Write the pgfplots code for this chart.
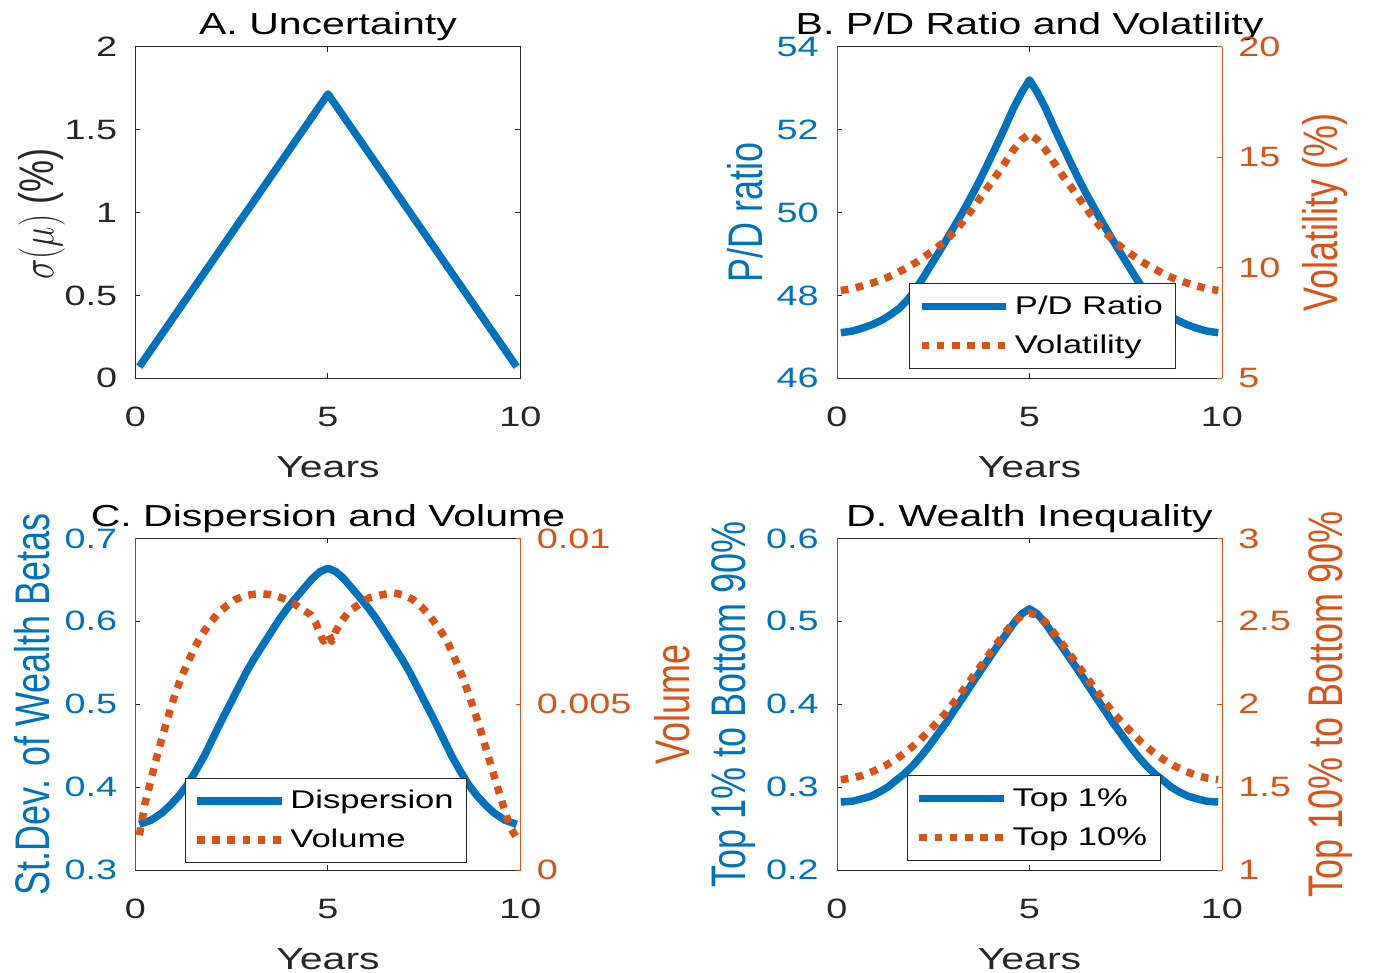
\documentclass[border=0pt]{standalone}
\usepackage{pgfplots}
\pgfplotsset{compat=1.18}
\usepackage{fontspec}
\setmainfont{Liberation Sans}
\usepackage{graphicx}
\definecolor{mblue}{rgb}{0,0.447,0.741}
\definecolor{morange}{rgb}{0.85,0.325,0.098}
\definecolor{mgray}{rgb}{0.15,0.15,0.15}
\newcommand\hs[1]{\scalebox{1.35}[1]{#1}}
\newcommand\vs[1]{\scalebox{1}[1.35]{#1}}
\newcommand\tickf{\fontsize{14}{16}\selectfont}
\newcommand\labf{\fontsize{15.2}{18}\selectfont}
\newcommand\ylabf{\fontsize{18}{20}\selectfont}
\newcommand\legf{\fontsize{12.8}{15}\selectfont}
\pgfplotsset{
  every non boxed x axis/.append style={x axis line style={-}},
  every non boxed y axis/.append style={y axis line style={-}},
  leftax/.style={axis x line*=box, axis y line*=left, axis line style={-, line width=0.5pt},
    x axis line style={draw=mgray}, y axis line style={draw=mblue},
    tick align=inside, xtick pos=both, ytick pos=left, xticklabel pos=lower, yticklabel pos=left,
    every tick/.append style={mgray, line width=0.5pt},
    yticklabel style={text=mblue, anchor=east, inner sep=0pt, xshift=-9pt},
    ylabel style={text=mblue}},
  rightax/.style={hide x axis, axis y line*=right, axis line style={-, line width=0.5pt},
    y axis line style={draw=morange},
    tick align=inside, ytick pos=right, yticklabel pos=right,
    every tick/.append style={morange, line width=0.5pt},
    yticklabel style={text=morange, anchor=west, inner sep=0pt, xshift=8pt},
    ylabel style={text=morange}},
  mbase/.style={
    scale only axis, width=192.5pt, height=165.8pt,
    xmin=0, xmax=10, scaled y ticks=false, scaled x ticks=false,
    /pgf/number format/assume math mode=true,
    major tick length=2.5pt,
    ticklabel style={font=\tickf},
    title style={font=\labf, text=black, at={(axis description cs:0.5,1)}, anchor=base},
    xlabel style={font=\labf, text=mgray, at={(axis description cs:0.5,0)}, anchor=base, yshift=-49.5pt},
    ylabel style={font=\ylabf, anchor=center},
    every axis plot/.append style={line join=round},
    legend image code/.code={\draw[##1] (0pt,0pt) -- (42.3pt,0pt);},
    legend cell align=left,
    legend style={anchor=south west, draw=mgray, line width=0.5pt, fill=white,
      inner xsep=4pt, inner ysep=2.2pt, row sep=1pt, column sep=0pt, font=\legf,
      nodes={inner xsep=2.5pt, inner ysep=3.5pt, text height=9.5pt, text depth=2pt}},
  },
  xbot/.style={xtick={0,5,10}, xticklabels={\hs{0},\hs{5},\hs{10}},
    xticklabel style={text=mgray, anchor=base, inner sep=0pt, yshift=-24pt},
    xlabel={\hs{Years}}},
  solidb/.style={mblue, line width=3.75pt},
  dotto/.style={morange, line width=3.75pt, dash pattern=on 3.8pt off 3.8pt},
}
\begin{document}
\begin{tikzpicture}
\useasboundingbox (0,0) rectangle (686.5pt,-486.5pt);
% ---------- A ----------
\begin{axis}[mbase, xbot, at={(67.75pt,-189.15pt)}, anchor=south west,
  ymin=0, ymax=2, ytick={0,0.5,1,1.5,2}, yticklabels={\hs{0},\hs{0.5},\hs{1},\hs{1.5},\hs{2}},
  yticklabel style={text=mgray, anchor=east, inner sep=0pt, xshift=-9pt},
  axis line style={mgray, line width=0.5pt}, every tick/.append style={mgray, line width=0.5pt},
  tick align=inside, xtick pos=both, ytick pos=both, xticklabel pos=lower, yticklabel pos=left,
  title={\hs{A. Uncertainty}},
  ylabel={\vs{$\sigma(\mu)$ (\%)}}, ylabel style={text=mgray, at={(axis description cs:-0.244,0.495)}},
]
\addplot[solidb] coordinates {(0.1,0.07) (5,1.715) (9.9,0.07)};
\end{axis}
% ---------- B ----------
\begin{axis}[leftax, mbase, xbot, at={(418.5pt,-189.15pt)}, anchor=south west,
  ymin=46, ymax=54, ytick={46,48,50,52,54}, yticklabels={\hs{46},\hs{48},\hs{50},\hs{52},\hs{54}},
  title={\hs{B. P/D Ratio and Volatility}},
  ylabel={\vs{P/D ratio}}, ylabel style={at={(axis description cs:-0.239,0.5)}},
]
\addplot[solidb] coordinates {(0.1,47.10) (0.4,47.14) (0.66,47.21) (0.9,47.29) (1.18,47.41) (1.4,47.54) (1.62,47.69) (1.8,47.86) (1.97,48.05) (2.2,48.37) (2.4,48.67) (2.62,49.00) (2.84,49.34) (3.05,49.67) (3.27,50.02) (3.5,50.41) (3.71,50.78) (3.93,51.20) (4.15,51.63) (4.37,52.07) (4.58,52.51) (4.8,52.90) (5.0,53.20) (5.2,52.90) (5.42,52.51) (5.63,52.07) (5.85,51.63) (6.07,51.20) (6.29,50.78) (6.5,50.41) (6.73,50.02) (6.95,49.67) (7.16,49.34) (7.38,49.00) (7.6,48.67) (7.8,48.37) (8.03,48.05) (8.2,47.86) (8.38,47.69) (8.6,47.54) (8.82,47.41) (9.1,47.29) (9.34,47.21) (9.6,47.14) (9.9,47.10)};
\end{axis}
\begin{axis}[rightax, mbase, at={(418.5pt,-189.15pt)}, anchor=south west,
  ymin=5, ymax=20, ytick={5,10,15,20}, yticklabels={\hs{5},\hs{10},\hs{15},\hs{20}},
  ylabel={\vs{Volatility (\%)}}, ylabel style={at={(axis description cs:1.268,0.5)}},
  legend style={at={(axis description cs:0.188,0.028)}},
]
\addlegendimage{solidb}
\addlegendentry{\hs{P/D Ratio}}
\addplot[dotto] coordinates {(0.1,8.97) (0.4,9.06) (0.66,9.18) (0.95,9.33) (1.27,9.53) (1.53,9.74) (1.79,9.98) (2.1,10.29) (2.4,10.66) (2.62,10.94) (2.84,11.26) (3.05,11.64) (3.27,12.09) (3.49,12.60) (3.71,13.14) (3.93,13.67) (4.15,14.20) (4.37,14.77) (4.58,15.33) (4.8,15.80) (5.0,16.05) (5.2,15.80) (5.42,15.33) (5.63,14.77) (5.85,14.20) (6.07,13.67) (6.29,13.14) (6.51,12.60) (6.73,12.09) (6.95,11.64) (7.16,11.26) (7.38,10.94) (7.6,10.66) (7.9,10.29) (8.21,9.98) (8.47,9.74) (8.73,9.53) (9.05,9.33) (9.34,9.18) (9.6,9.06) (9.9,8.97)};
\addlegendentry{\hs{Volatility}}
\end{axis}
% ---------- C ----------
\begin{axis}[leftax, mbase, xbot, at={(67.75pt,-435pt)}, anchor=south west,
  ymin=0.3, ymax=0.7, ytick={0.3,0.4,0.5,0.6,0.7}, yticklabels={\hs{0.3},\hs{0.4},\hs{0.5},\hs{0.6},\hs{0.7}},
  title={\hs{C. Dispersion and Volume}},
  ylabel={\vs{St.Dev. of Wealth Betas}}, ylabel style={at={(axis description cs:-0.268,0.5)}},
]
\addplot[solidb] coordinates {(0.1,0.355) (0.4,0.360) (0.69,0.369) (0.9,0.378) (1.12,0.389) (1.35,0.403) (1.56,0.419) (1.78,0.437) (1.99,0.457) (2.2,0.477) (2.42,0.497) (2.64,0.517) (2.86,0.537) (3.07,0.554) (3.29,0.570) (3.51,0.586) (3.73,0.602) (3.95,0.616) (4.16,0.628) (4.38,0.640) (4.6,0.652) (4.8,0.660) (5.0,0.664) (5.2,0.660) (5.4,0.652) (5.62,0.640) (5.84,0.628) (6.05,0.616) (6.27,0.602) (6.49,0.586) (6.71,0.570) (6.93,0.554) (7.14,0.537) (7.36,0.517) (7.58,0.497) (7.8,0.477) (8.01,0.457) (8.22,0.437) (8.44,0.419) (8.65,0.403) (8.88,0.389) (9.1,0.378) (9.31,0.369) (9.6,0.360) (9.9,0.355)};
\end{axis}
\begin{axis}[rightax, mbase, at={(67.75pt,-435pt)}, anchor=south west,
  ymin=0, ymax=0.01, ytick={0,0.005,0.01}, yticklabels={\hs{0},\hs{0.005},\hs{0.01}},
  ylabel={\vs{Volume}}, ylabel style={at={(axis description cs:1.393,0.5)}},
  legend style={at={(axis description cs:0.128,0.02)}},
]
\addlegendimage{solidb}
\addlegendentry{\hs{Dispersion}}
\addplot[dotto] coordinates {(0.1,0.00105) (0.25,0.00202) (0.38,0.00262) (0.51,0.00322) (0.64,0.00378) (0.77,0.00431) (0.9,0.00482) (1.03,0.00531) (1.2,0.00584) (1.38,0.00631) (1.55,0.00674) (1.73,0.00711) (1.95,0.00747) (2.16,0.00776) (2.38,0.00798) (2.60,0.00816) (2.82,0.00826) (3.03,0.00831) (3.25,0.00833) (3.47,0.00831) (3.70,0.00825) (3.90,0.00816) (4.12,0.00803) (4.33,0.00786) (4.55,0.0077) (4.68,0.00746) (4.8,0.0071) (4.88,0.0069) (4.95,0.0070) (5.02,0.0071) (5.1,0.0069) (5.2,0.0072) (5.35,0.0075) (5.55,0.00781) (5.8,0.0080) (6.07,0.00821) (6.4,0.0083) (6.68,0.00836) (6.95,0.0083) (7.2,0.00816) (7.42,0.00795) (7.64,0.00766) (7.85,0.00734) (8.07,0.00696) (8.28,0.00642) (8.5,0.00581) (8.72,0.00508) (8.94,0.00431) (9.15,0.00348) (9.37,0.00262) (9.55,0.00195) (9.72,0.00132) (9.9,0.00097)};
\addlegendentry{\hs{Volume}}
\end{axis}
% ---------- D ----------
\begin{axis}[leftax, mbase, xbot, at={(418.5pt,-435pt)}, anchor=south west,
  ymin=0.2, ymax=0.6, ytick={0.2,0.3,0.4,0.5,0.6}, yticklabels={\hs{0.2},\hs{0.3},\hs{0.4},\hs{0.5},\hs{0.6}},
  title={\hs{D. Wealth Inequality}},
  ylabel={\vs{Top 1\% to Bottom 90\%}}, ylabel style={at={(axis description cs:-0.269,0.5)}},
]
\addplot[solidb] coordinates {(0.1,0.282) (0.4,0.283) (0.66,0.286) (0.88,0.289) (1.1,0.294) (1.32,0.300) (1.53,0.308) (1.75,0.316) (1.97,0.326) (2.18,0.337) (2.4,0.350) (2.62,0.364) (2.84,0.378) (3.05,0.393) (3.27,0.408) (3.49,0.4235) (3.71,0.439) (3.93,0.454) (4.15,0.469) (4.37,0.483) (4.58,0.497) (4.8,0.509) (5.0,0.515) (5.2,0.509) (5.42,0.497) (5.63,0.483) (5.85,0.469) (6.07,0.454) (6.29,0.439) (6.51,0.4235) (6.73,0.408) (6.95,0.393) (7.16,0.378) (7.38,0.364) (7.6,0.350) (7.82,0.337) (8.03,0.326) (8.25,0.316) (8.47,0.308) (8.68,0.300) (8.9,0.294) (9.12,0.289) (9.34,0.286) (9.6,0.283) (9.9,0.282)};
\end{axis}
\begin{axis}[rightax, mbase, at={(418.5pt,-435pt)}, anchor=south west,
  ymin=1, ymax=3, ytick={1,1.5,2,2.5,3}, yticklabels={\hs{1},\hs{1.5},\hs{2},\hs{2.5},\hs{3}},
  ylabel={\vs{Top 10\% to Bottom 90\%}}, ylabel style={at={(axis description cs:1.283,0.5)}},
  legend style={at={(axis description cs:0.182,0.027)}},
]
\addlegendimage{solidb}
\addlegendentry{\hs{Top 1\%}}
\addplot[dotto] coordinates {(0.1,1.545) (0.4,1.555) (0.66,1.570) (0.95,1.596) (1.27,1.631) (1.53,1.668) (1.79,1.711) (2.1,1.772) (2.4,1.842) (2.62,1.895) (2.84,1.952) (3.05,2.015) (3.27,2.083) (3.49,2.153) (3.71,2.223) (3.93,2.294) (4.15,2.364) (4.37,2.432) (4.58,2.494) (4.8,2.535) (5.0,2.55) (5.2,2.535) (5.42,2.494) (5.63,2.432) (5.85,2.364) (6.07,2.294) (6.29,2.223) (6.51,2.153) (6.73,2.083) (6.95,2.015) (7.16,1.952) (7.38,1.895) (7.6,1.842) (7.9,1.772) (8.21,1.711) (8.47,1.668) (8.73,1.631) (9.05,1.596) (9.34,1.570) (9.6,1.555) (9.9,1.545)};
\addlegendentry{\hs{Top 10\%}}
\end{axis}
\end{tikzpicture}
\end{document}
